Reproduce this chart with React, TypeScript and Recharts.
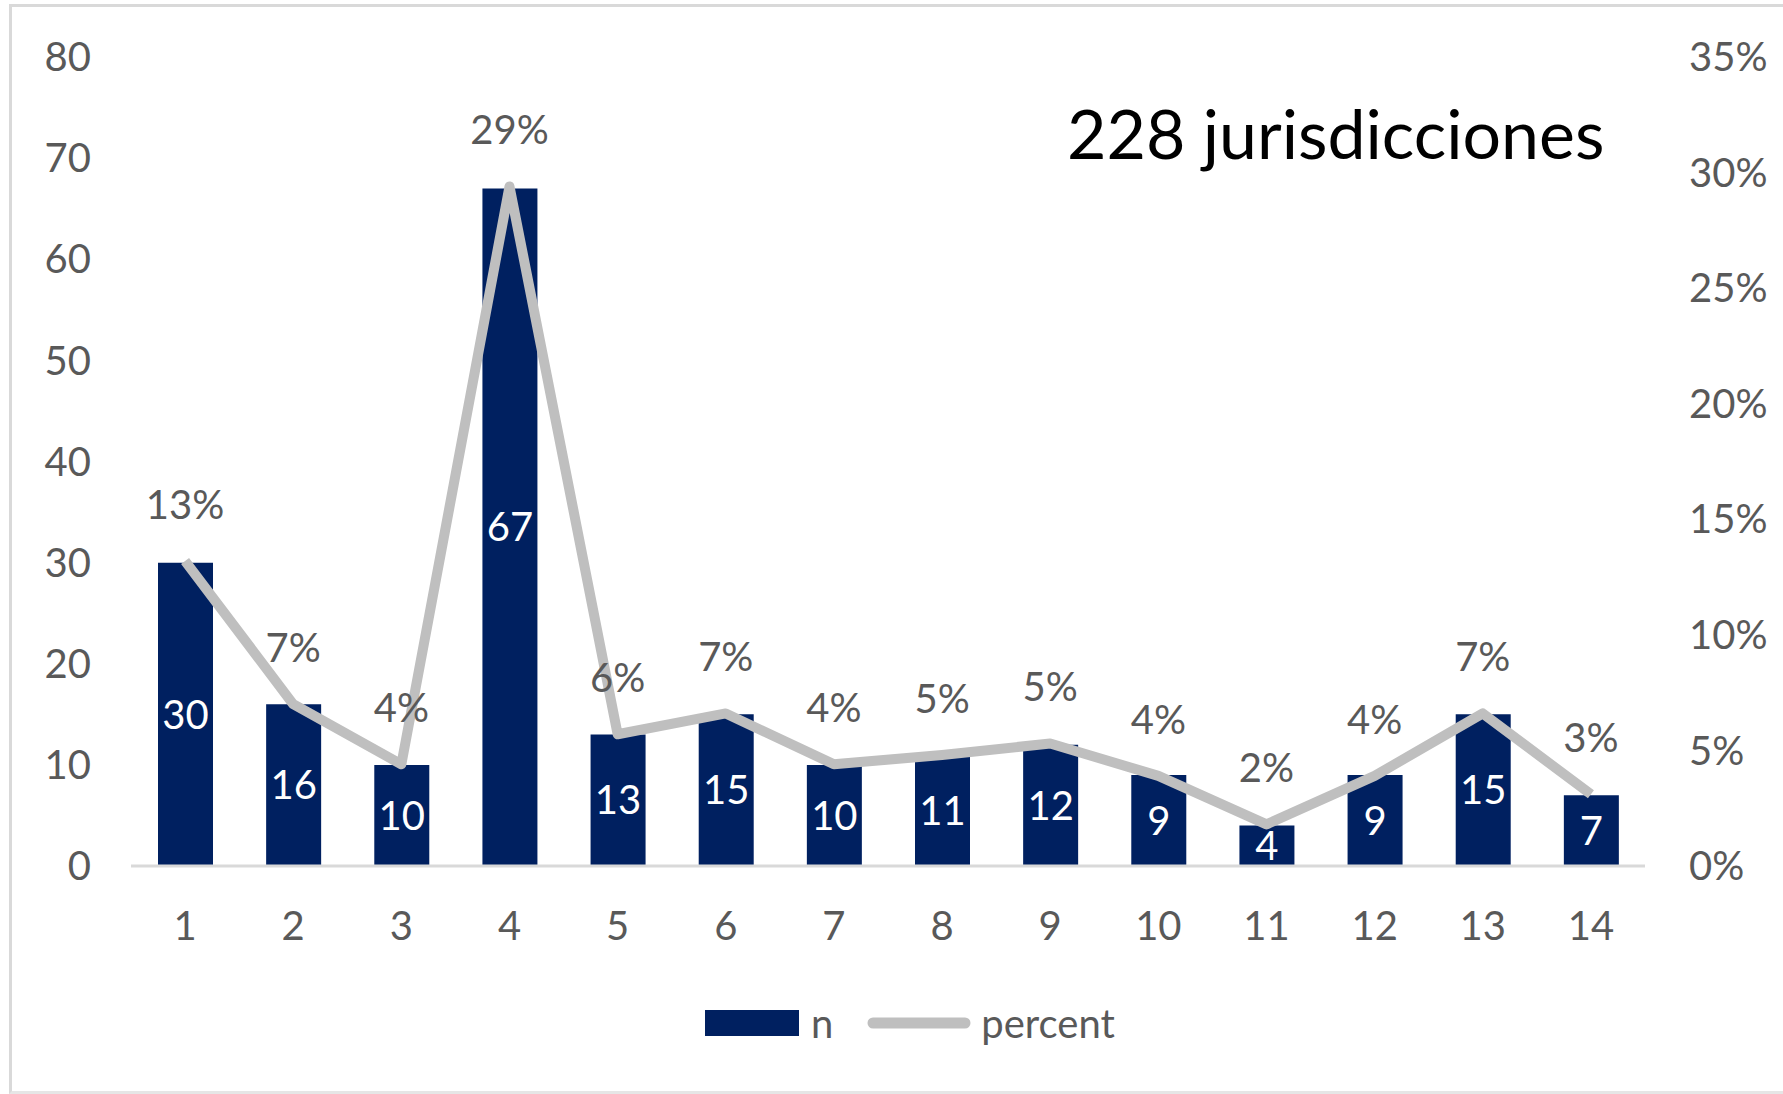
import React from "react";
import {
  ComposedChart, Bar, Line, XAxis, YAxis, LabelList, Customized,
} from "recharts";

const categories = ["1", "2", "3", "4", "5", "6", "7", "8", "9", "10", "11", "12", "13", "14"];
const counts = [30, 16, 10, 67, 13, 15, 10, 11, 12, 9, 4, 9, 15, 7];
const percents = [13.2, 7.0, 4.4, 29.4, 5.7, 6.6, 4.4, 4.8, 5.3, 3.9, 1.8, 3.9, 6.6, 3.1];
const leftTicks = [0, 10, 20, 30, 40, 50, 60, 70, 80];
const rightTicks = [0, 5, 10, 15, 20, 25, 30, 35];
const title = "228 jurisdicciones";

const NAVY = "#002060";
const LINE_GRAY = "#BFBFBF";
const TEXT_GRAY = "#595959";
const FONT = "Lato, 'Noto Sans', sans-serif";

const data = categories.map((c, i) => ({ cat: c, n: counts[i], percent: percents[i] }));

function PercentLabel({ x, y, value }: any) {
  return (
    <text
      x={x}
      y={y - 57}
      textAnchor="middle"
      dominantBaseline="central"
      fill={TEXT_GRAY}
      fontSize={40}
      fontFamily={FONT}
    >
      {Math.round(value)}%
    </text>
  );
}

function Title() {
  return (
    <text x={1067} y={159} fill="#000" fontSize={68} fontFamily={FONT}>
      {title}
    </text>
  );
}

export default function App() {
  const tick = { fill: TEXT_GRAY, fontSize: 40, fontFamily: FONT };
  return (
    <div style={{ position: "absolute", left: 0, top: 0, width: 1783, height: 1094, background: "#fff", overflow: "hidden" }}>
      {/* frame */}
      <div
        style={{
          position: "absolute",
          left: 9,
          top: 4,
          width: 1800,
          height: 1084,
          borderLeft: "3px solid #D9D9D9",
          borderTop: "3px solid #D9D9D9",
          borderBottom: "3px solid #E6E6E6",
        }}
      />
      <div style={{ position: "absolute", left: 0, top: 0 }}>
        <ComposedChart
          width={1783}
          height={1094}
          data={data}
          margin={{ top: 57, right: 0, left: 0, bottom: 128 }}
        >
          <XAxis
            dataKey="cat"
            tick={tick}
            tickLine={false}
            tickSize={0}
            tickMargin={46}
            height={100}
            axisLine={{ stroke: "#D9D9D9", strokeWidth: 3 }}
          />
          <YAxis
            yAxisId="left"
            domain={[0, 80]}
            ticks={leftTicks}
            width={131}
            tick={tick}
            tickLine={false}
            tickSize={0}
            tickMargin={40}
            axisLine={false}
          />
          <YAxis
            yAxisId="right"
            orientation="right"
            domain={[0, 35]}
            ticks={rightTicks}
            width={138}
            tick={{ ...tick, textAnchor: "start" }}
            tickFormatter={(v: number) => `${v}%`}
            tickLine={false}
            tickSize={0}
            tickMargin={44}
            axisLine={false}
          />
          <Bar yAxisId="left" dataKey="n" fill={NAVY} barSize={55} isAnimationActive={false}>
            <LabelList
              dataKey="n"
              position="center"
              fill="#fff"
              fontSize={40}
              fontFamily={FONT}
            />
          </Bar>
          <Line
            yAxisId="right"
            type="linear"
            dataKey="percent"
            stroke={LINE_GRAY}
            strokeWidth={10}
            strokeLinejoin="round"
            dot={false}
            activeDot={false}
            isAnimationActive={false}
          >
            <LabelList dataKey="percent" content={PercentLabel} />
          </Line>
          <Customized component={Title} />
        </ComposedChart>
      </div>
      {/* legend */}
      <div
        style={{
          position: "absolute",
          left: 705,
          top: 998,
          height: 50,
          display: "flex",
          alignItems: "center",
          fontFamily: FONT,
          fontSize: 40,
          color: TEXT_GRAY,
        }}
      >
        <div style={{ width: 94, height: 26, background: NAVY, marginRight: 12 }} />
        <span style={{ marginRight: 34 }}>n</span>
        <svg width={104} height={14} style={{ marginRight: 10 }}>
          <line x1={6} y1={7} x2={98} y2={7} stroke={LINE_GRAY} strokeWidth={11} strokeLinecap="round" />
        </svg>
        <span>percent</span>
      </div>
    </div>
  );
}
